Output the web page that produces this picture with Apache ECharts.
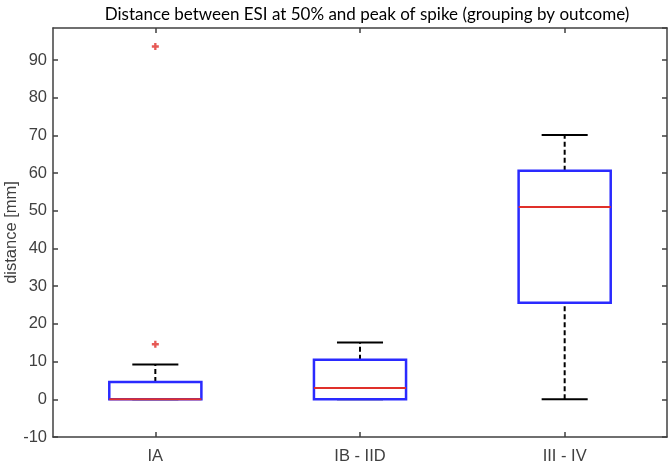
<!DOCTYPE html>
<html>
<head>
<meta charset="utf-8">
<script src="https://cdn.jsdelivr.net/npm/echarts@6/dist/echarts.min.js"></script>
<style>html,body{margin:0;padding:0;background:#fff}#c{width:669px;height:463px}</style>
</head>
<body>
<div id="c"></div>
<script>
var categories = ['IA', 'IB - IID', 'III - IV'];
var lowerWhisker = [0, 0, 0];
var q1 = [0, 0, 25.6];
var medianVals = [0, 3.0, 51.0];
var q3 = [4.6, 10.5, 60.6];
var upperWhisker = [9.2, 15.1, 70.1];
var outlierCategory = ['IA', 'IA'];
var outlierValue = [14.6, 93.6];
var yTicks = { min: -10, max: 98.5, interval: 10 };

var boxData = categories.map(function (c, i) {
  return [i, lowerWhisker[i], q1[i], medianVals[i], q3[i], upperWhisker[i]];
});
var outlierData = outlierCategory.map(function (c, i) { return [c, outlierValue[i]]; });

var chart = echarts.init(document.getElementById('c'), null, { renderer: 'canvas' });

function renderBox(params, api) {
  var idx = api.value(0);
  var lo = api.coord([idx, api.value(1)]);
  var p1 = api.coord([idx, api.value(2)]);
  var md = api.coord([idx, api.value(3)]);
  var p3 = api.coord([idx, api.value(4)]);
  var hi = api.coord([idx, api.value(5)]);
  var band = api.size([1, 0])[0];
  var hw = band * 0.225;
  var cw = hw * 0.5;
  var x = lo[0];
  var black = { stroke: '#000', lineWidth: 2, fill: null };
  var dashed = { stroke: '#000', lineWidth: 2, lineDash: [5, 3], fill: null };
  return {
    type: 'group',
    children: [
      { type: 'line', shape: { x1: x, y1: p3[1], x2: x, y2: hi[1] }, style: dashed },
      { type: 'line', shape: { x1: x, y1: lo[1], x2: x, y2: p1[1] }, style: dashed },
      { type: 'line', shape: { x1: x - cw, y1: hi[1], x2: x + cw, y2: hi[1] }, style: black },
      { type: 'line', shape: { x1: x - cw, y1: lo[1], x2: x + cw, y2: lo[1] }, style: black },
      { type: 'rect', shape: { x: x - hw, y: p3[1], width: hw * 2, height: p1[1] - p3[1] },
        style: { stroke: '#2a2aff', lineWidth: 2.5, fill: null } },
      { type: 'line', shape: { x1: x - hw, y1: md[1], x2: x + hw, y2: md[1] },
        style: { stroke: '#e0302a', lineWidth: 2, fill: null } }
    ]
  };
}

var axisLineStyle = { color: '#404040', width: 1.5 };
var labelFont = { fontFamily: 'Liberation Sans', fontSize: 16.5, color: '#404040' };

chart.setOption({
  animation: false,
  backgroundColor: '#fff',
  title: {
    text: 'Distance between ESI at 50% and peak of spike (grouping by outcome)',
    left: 362, top: 1, textAlign: 'center',
    textStyle: { fontFamily: 'Lato', fontSize: 17, fontWeight: 'normal', color: '#000' }
  },
  grid: { left: 53, right: 2, top: 28, bottom: 26, containLabel: false, outerBoundsMode: 'none' },
  xAxis: [
    { type: 'category', data: categories, position: 'bottom',
      axisLine: { show: true, onZero: false, lineStyle: axisLineStyle },
      axisTick: { show: true, inside: true, alignWithLabel: true, length: 5, lineStyle: axisLineStyle },
      axisLabel: Object.assign({ margin: 11 }, labelFont),
      splitLine: { show: false } },
    { type: 'category', data: categories, position: 'top',
      axisLine: { show: true, onZero: false, lineStyle: axisLineStyle },
      axisTick: { show: true, inside: true, alignWithLabel: true, length: 5, lineStyle: axisLineStyle },
      axisLabel: { show: false }, splitLine: { show: false } }
  ],
  yAxis: [
    { type: 'value', min: yTicks.min, max: yTicks.max, interval: yTicks.interval, position: 'left',
      name: 'distance [mm]', nameLocation: 'middle', nameGap: 33, nameMoveOverlap: false,
      nameTextStyle: { fontFamily: 'Liberation Sans', fontSize: 16.5, color: '#404040' },
      axisLine: { show: true, onZero: false, lineStyle: axisLineStyle },
      axisTick: { show: true, inside: true, length: 5, lineStyle: axisLineStyle },
      axisLabel: Object.assign({ margin: 6, showMaxLabel: false }, labelFont),
      splitLine: { show: false } },
    { type: 'value', min: yTicks.min, max: yTicks.max, interval: yTicks.interval, position: 'right',
      axisLine: { show: true, onZero: false, lineStyle: axisLineStyle },
      axisTick: { show: true, inside: true, length: 5, lineStyle: axisLineStyle },
      axisLabel: { show: false }, splitLine: { show: false } }
  ],
  series: [
    { type: 'custom', renderItem: renderBox, data: boxData, xAxisIndex: 0, yAxisIndex: 0,
      encode: { x: 0, y: [1, 2, 3, 4, 5] } },
    { type: 'scatter', data: outlierData, xAxisIndex: 0, yAxisIndex: 0,
      symbol: 'path://M2,0H4V2H6V4H4V6H2V4H0V2H2Z', symbolSize: 7,
      itemStyle: { color: '#e0302a' } }
  ]
});
</script>
</body>
</html>
